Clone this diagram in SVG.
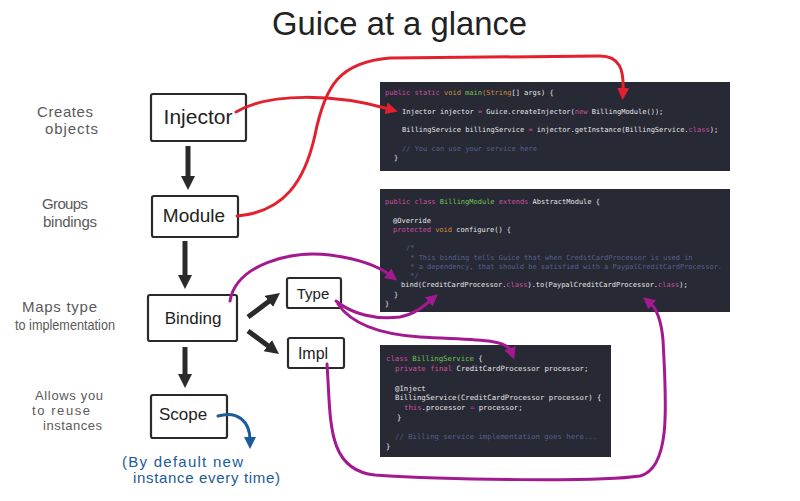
<svg xmlns="http://www.w3.org/2000/svg" width="800" height="501" viewBox="0 0 800 501">
<defs>
<style>
.hand{font-family:"Liberation Sans","DejaVu Sans",sans-serif;fill:#222}
.note{font-family:"Liberation Sans","DejaVu Sans",sans-serif;fill:#5a5a5a;font-size:15px}
.sm{font-size:13px}
.blue{font-family:"Liberation Sans","DejaVu Sans",sans-serif;fill:#1b5b98;font-size:15px}
.box{fill:#fff;stroke:#2a2a2a;stroke-width:2.2;stroke-linejoin:round}
.code{fill:#272935}
.c{font-family:"DejaVu Sans Mono","Liberation Mono",monospace;font-size:7px;fill:#e6e6e6;white-space:pre}
.c3{font-size:7.3px}
.k{fill:#cc4f9e}
.o{fill:#d58c3c}
.g{fill:#72c64e}
.m{fill:#56608e}
.blk{stroke:#2a2a2a;stroke-width:5;fill:none}
.red{stroke:#e2202e;stroke-width:3;fill:none;stroke-linecap:round}
.mag{stroke:#a3198f;stroke-width:3;fill:none;stroke-linecap:round}
.blu{stroke:#1b5b98;stroke-width:3;fill:none;stroke-linecap:round}
</style>
<marker id="ab" markerUnits="userSpaceOnUse" markerWidth="16" markerHeight="16" refX="4" refY="7" orient="auto"><path d="M0,0 L14,7 L0,14 z" fill="#2a2a2a"/></marker>
<marker id="ar" markerUnits="userSpaceOnUse" markerWidth="14" markerHeight="14" refX="3" refY="6" orient="auto"><path d="M0,0 L12,6 L0,12 z" fill="#e2202e"/></marker>
<marker id="am" markerUnits="userSpaceOnUse" markerWidth="14" markerHeight="14" refX="3" refY="6" orient="auto"><path d="M0,0 L12,6 L0,12 z" fill="#a3198f"/></marker>
<marker id="au" markerUnits="userSpaceOnUse" markerWidth="14" markerHeight="14" refX="3" refY="6" orient="auto"><path d="M0,0 L12,6 L0,12 z" fill="#1b5b98"/></marker>
</defs>
<rect width="800" height="501" fill="#fff"/>

<text class="hand" x="272" y="35" font-size="34" textLength="255" lengthAdjust="spacingAndGlyphs">Guice at a glance</text>

<g id="labels">
<text class="note" x="37" y="117" textLength="56">Creates</text>
<text class="note" x="45" y="134" textLength="53">objects</text>
<text class="note" x="42" y="209" textLength="46">Groups</text>
<text class="note" x="43" y="227" textLength="54">bindings</text>
<text class="note" x="22" y="312" textLength="75">Maps type</text>
<text class="note" x="15" y="330" textLength="100" lengthAdjust="spacingAndGlyphs">to implementation</text>
<text class="note sm" x="35" y="400" textLength="68">Allows you</text>
<text class="note sm" x="32" y="415" textLength="58">to reuse</text>
<text class="note sm" x="43" y="430" textLength="59">instances</text>
<text class="blue" x="122" y="467" textLength="121">(By default new</text>
<text class="blue" x="133" y="483" textLength="147">instance every time)</text>
</g>

<g id="code-main">
<rect class="code" x="380" y="82" width="350" height="89"/>
<text class="c" x="385" y="95"><tspan class="k">public static </tspan><tspan class="o">void </tspan><tspan class="g">main</tspan><tspan class="o">(String</tspan>[] args) {</text>
<text class="c" x="402" y="114">Injector injector <tspan class="k">=</tspan> Guice.createInjector(<tspan class="k">new</tspan> BillingModule());</text>
<text class="c" x="402" y="132">BillingService billingService <tspan class="k">=</tspan> injector.getInstance(BillingService.<tspan class="k">class</tspan>);</text>
<text class="c m" x="402" y="151">// You can use your service here</text>
<text class="c" x="394" y="160">}</text>
</g>

<g id="code-module">
<rect class="code" x="380" y="189" width="350" height="123"/>
<text class="c" x="385" y="204"><tspan class="k">public class </tspan><tspan class="g">BillingModule </tspan><tspan class="k">extends </tspan>AbstractModule {</text>
<text class="c" x="393" y="223">@Override</text>
<text class="c" x="393" y="232"><tspan class="k">protected </tspan><tspan class="o">void </tspan>configure() {</text>
<text class="c m" x="406" y="250">/*</text>
<text class="c m" x="406" y="260"> * This binding tells Guice that when CreditCardProcessor is used in</text>
<text class="c m" x="406" y="269"> * a dependency, that should be satisfied with a PaypalCreditCardProcessor.</text>
<text class="c m" x="406" y="278"> */</text>
<text class="c" x="401" y="287">bind(CreditCardProcessor.<tspan class="k">class</tspan>).to(PaypalCreditCardProcessor.<tspan class="k">class</tspan>);</text>
<text class="c" x="394" y="297">}</text>
<text class="c" x="385" y="306">}</text>
</g>

<g id="code-service">
<rect class="code" x="380" y="345" width="231" height="112"/>
<text class="c c3" x="386" y="361"><tspan class="k">class </tspan><tspan class="g">BillingService </tspan>{</text>
<text class="c c3" x="395" y="371"><tspan class="k">private final </tspan>CreditCardProcessor processor;</text>
<text class="c c3" x="395" y="391">@Inject</text>
<text class="c c3" x="395" y="400">BillingService(CreditCardProcessor processor) {</text>
<text class="c c3" x="404" y="410"><tspan class="k">this</tspan>.processor <tspan class="k">=</tspan> processor;</text>
<text class="c c3" x="397" y="420">}</text>
<text class="c c3 m" x="395" y="439">// Billing service implementation goes here...</text>
<text class="c c3" x="386" y="449">}</text>
</g>

<g id="injector"><rect class="box" x="151" y="94" width="95" height="47" rx="2"/><text class="hand" x="198" y="124" font-size="21" text-anchor="middle">Injector</text></g>
<g id="module"><rect class="box" x="152" y="196" width="86" height="41" rx="2"/><text class="hand" x="194" y="222" font-size="19" text-anchor="middle">Module</text></g>
<g id="binding"><rect class="box" x="148" y="295" width="89" height="46" rx="2"/><text class="hand" x="193" y="324" font-size="17" text-anchor="middle">Binding</text></g>
<g id="type"><rect class="box" x="287" y="278" width="54" height="30" rx="2"/><text class="hand" x="313" y="299" font-size="15" text-anchor="middle">Type</text></g>
<g id="impl"><rect class="box" x="288" y="338" width="56" height="30" rx="2"/><text class="hand" x="313" y="359" font-size="16" text-anchor="middle">Impl</text></g>
<g id="scope"><rect class="box" x="151" y="395" width="76" height="43" rx="2"/><text class="hand" x="183" y="420" font-size="17" text-anchor="middle">Scope</text></g>

<g id="connectors">
<line class="blk" x1="188" y1="146" x2="188" y2="180" marker-end="url(#ab)"/>
<line class="blk" x1="185" y1="241" x2="185" y2="279" marker-end="url(#ab)"/>
<line class="blk" x1="185" y1="347" x2="185" y2="378" marker-end="url(#ab)"/>
<line class="blk" x1="248" y1="317" x2="272" y2="299" marker-end="url(#ab)"/>
<line class="blk" x1="248" y1="331" x2="271" y2="348" marker-end="url(#ab)"/>
<path class="red" d="M236,112 C270,92 335,94 389,109" marker-end="url(#ar)"/>
<path class="red" d="M237,216 C285,212 305,180 315,135 C325,85 340,62 390,58 L600,56 C620,56 624,70 623,91" marker-end="url(#ar)"/>
<path class="mag" d="M230,301 C236,265 290,250 330,255 C360,259 378,266 390,275" marker-end="url(#am)"/>
<path class="mag" d="M336,301 C352,314 375,320 400,317 C415,314 424,306 431,300" marker-end="url(#am)"/>
<path class="mag" d="M338,304 C350,322 375,334 420,337 C470,340 506,338 511,351" marker-end="url(#am)"/>
<path class="mag" d="M327,364 C331,420 326,470 375,475 C450,480 600,482 640,476 C672,468 666,400 663,340 C661,318 656,308 650,303" marker-end="url(#am)"/>
<path class="blu" d="M218,416 C238,410 250,422 250,440" marker-end="url(#au)"/>
</g>
</svg>
